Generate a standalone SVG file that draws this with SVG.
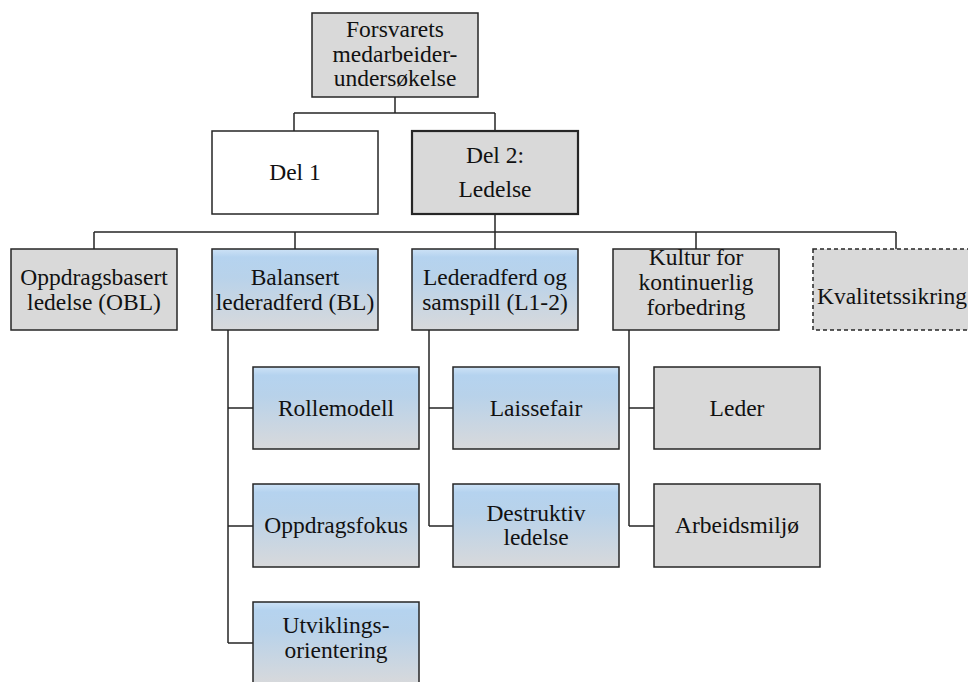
<svg xmlns="http://www.w3.org/2000/svg" width="968" height="682" viewBox="0 0 968 682">
<defs>
<linearGradient id="blue" x1="0" y1="0" x2="0" y2="1">
<stop offset="0" stop-color="#cde2f6"/>
<stop offset="0.1" stop-color="#b5d3ef"/>
<stop offset="0.35" stop-color="#b8d2ea"/>
<stop offset="1" stop-color="#d8d9db"/>
</linearGradient>
</defs>
<style>
rect{stroke:#262626;stroke-width:1.5}
.g{fill:#d9d9d9}
.w{fill:#ffffff}
.b{fill:url(#blue)}
.thick{stroke-width:2.2}
.dash{stroke-dasharray:4 3}
text{font-family:'Liberation Serif','Times New Roman',serif;font-size:23.5px;fill:#111;text-anchor:middle}
.c path{fill:none;stroke:#262626;stroke-width:1.5}
</style>
<rect width="968" height="682" fill="#fff" style="stroke:none"/>
<g class="c" id="connectors">
<path d="M395 97V113M294 113H495M294 113V131M495 113V131"/>
<path d="M495 214V232M94 232H896M94 232V249M295 232V249M495 232V249M696 232V249M896 232V249"/>
<path d="M228 330V643M228 408H253M228 526H253M228 643H253"/>
<path d="M429 330V526M429 408H453M429 526H453"/>
<path d="M629 330V526M629 408H654M629 526H654"/>
</g>
<g id="root"><rect class="g" x="312" y="13" width="166" height="84"/>
<text x="395" y="37">Forsvarets</text><text x="395" y="62">medarbeider-</text><text x="395" y="86">undersøkelse</text></g>
<g id="del1"><rect class="w" x="212" y="131" width="166" height="83"/><text x="295" y="180">Del 1</text></g>
<g id="del2"><rect class="g thick" x="412" y="131" width="166" height="83"/><text x="495" y="163">Del 2:</text><text x="495" y="197">Ledelse</text></g>
<g id="obl"><rect class="g" x="11" y="249" width="166" height="81"/><text x="94" y="285">Oppdragsbasert</text><text x="94" y="310">ledelse (OBL)</text></g>
<g id="bl"><rect class="b" x="212" y="249" width="166" height="81"/><text x="295" y="285">Balansert</text><text x="295" y="310">lederadferd (BL)</text></g>
<g id="l12"><rect class="b" x="412" y="249" width="166" height="81"/><text x="495" y="285">Lederadferd og</text><text x="495" y="310">samspill (L1-2)</text></g>
<g id="kultur"><rect class="g" x="613" y="249" width="166" height="81"/><text x="696" y="265">Kultur for</text><text x="696" y="290">kontinuerlig</text><text x="696" y="315">forbedring</text></g>
<g id="kval"><rect class="g dash" x="813" y="249" width="166" height="81"/><text x="892" y="304">Kvalitetssikring</text></g>
<g id="rolle"><rect class="b" x="253" y="367" width="166" height="82"/><text x="336" y="416">Rollemodell</text></g>
<g id="oppdrag"><rect class="b" x="253" y="484" width="166" height="83"/><text x="336" y="533">Oppdragsfokus</text></g>
<g id="utvikling"><rect class="b" x="253" y="602" width="166" height="83"/><text x="336" y="633">Utviklings-</text><text x="336" y="658">orientering</text></g>
<g id="laissefair"><rect class="b" x="453" y="367" width="166" height="82"/><text x="536" y="416">Laissefair</text></g>
<g id="destruktiv"><rect class="b" x="453" y="484" width="166" height="83"/><text x="536" y="521">Destruktiv</text><text x="536" y="545">ledelse</text></g>
<g id="leder"><rect class="g" x="654" y="367" width="166" height="82"/><text x="737" y="416">Leder</text></g>
<g id="arbeid"><rect class="g" x="654" y="484" width="166" height="83"/><text x="737" y="533">Arbeidsmiljø</text></g>
</svg>
